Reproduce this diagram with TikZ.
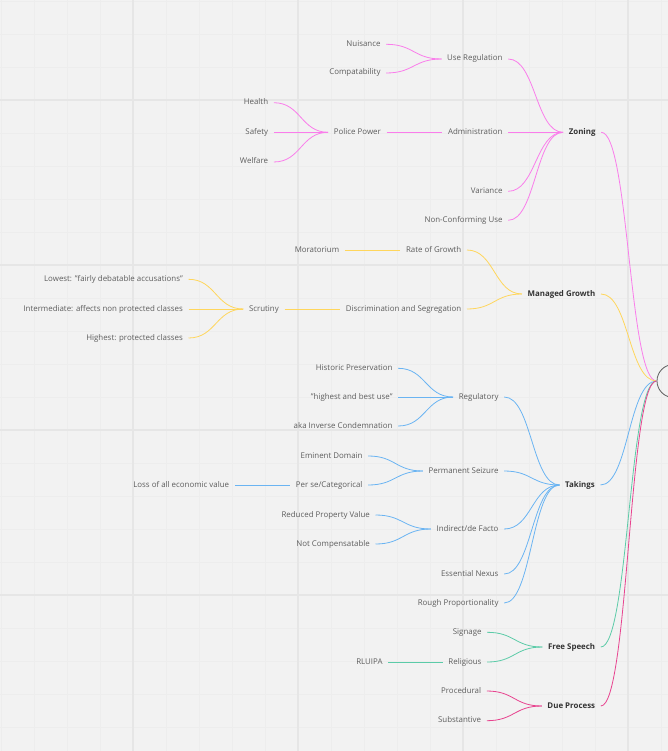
\documentclass[tikz,border=0pt]{standalone}
\usepackage{fontspec}
\setmainfont{Open Sans}
\usetikzlibrary{calc}
\definecolor{bg}{HTML}{F2F2F2}
\definecolor{gmin}{HTML}{EDEDED}
\definecolor{gmaj}{HTML}{E6E6E6}
\definecolor{txt}{HTML}{5E5E5E}
\definecolor{txtb}{HTML}{333333}
\definecolor{pinkc}{HTML}{FA7DEB}
\definecolor{yellowc}{HTML}{FFD65C}
\definecolor{bluec}{HTML}{6AB4F2}
\definecolor{tealc}{HTML}{5BCBA8}
\definecolor{crimc}{HTML}{E8438F}
\tikzset{
  lab/.style={font=\fontsize{7.9}{9}\selectfont, text=txt, inner xsep=5.5pt, inner ysep=1pt,
    text height=5.4pt, text depth=1.4pt, anchor=east, xshift=5.5pt},
  labb/.style={lab, font=\fontsize{7.9}{9}\selectfont\bfseries, text=txtb},
  mm/.style={to path={let \p1=(\tikztostart), \p2=(\tikztotarget), \n1={(\x2-\x1)/2} in
     .. controls +(\n1,0) and +(-\n1,0) .. (\tikztotarget)}},
  conn/.style={line width=0.8pt},
}
\begin{document}
\begin{tikzpicture}[x=1pt,y=-1pt]
\fill[bg] (0,0) rectangle (668,751);
\useasboundingbox (0,0) rectangle (668,751);
% grid
\foreach \gx in {1,34,...,661} \draw[gmin,line width=0.7pt] (\gx,0) -- (\gx,751);
\foreach \gy in {1,34,...,727} \draw[gmin,line width=0.7pt] (0,\gy) -- (668,\gy);
\foreach \gx in {133,298,463,628} \draw[gmaj,line width=1.2pt] (\gx,0) -- (\gx,751);
\foreach \gy in {100,265,430,595} \draw[gmaj,line width=1.2pt] (0,\gy) -- (668,\gy);

% root
\node[circle, draw=txt, line width=0.8pt, minimum size=33pt, inner sep=0pt] (root) at (673.5,381) {};

% Zoning
\node[lab] (nuis) at (380.7,44.3) {Nuisance};
\node[lab] (comp) at (380.7,73) {Compatability};
\node[lab] (usereg) at (502.7,59) {Use Regulation};
\node[lab] (health) at (268.3,102.7) {Health};
\node[lab] (safety) at (268.3,132.3) {Safety};
\node[lab] (welfare) at (268.3,162) {Welfare};
\node[lab] (police) at (381,132.3) {Police Power};
\node[lab] (admin) at (502.7,132.3) {Administration};
\node[lab] (variance) at (502.7,191.3) {Variance};
\node[lab] (noncon) at (502.7,220.3) {Non-Conforming Use};
\node[labb] (zoning) at (595.7,132.3) {Zoning};

% Managed Growth
\node[lab] (morat) at (339.3,250) {Moratorium};
\node[lab] (rate) at (461.5,250) {Rate of Growth};
\node[lab] (lowest) at (183,279.3) {Lowest: "fairly debatable accusations"};
\node[lab] (inter) at (183,309) {Intermediate: affects non protected classes};
\node[lab] (highest) at (183,338) {Highest: protected classes};
\node[lab] (scrut) at (279,309) {Scrutiny};
\node[lab] (discrim) at (461.5,309) {Discrimination and Segregation};
\node[labb] (mgrowth) at (595.5,294) {Managed Growth};

% Takings
\node[lab] (hist) at (392.7,368.3) {Historic Preservation};
\node[lab] (hbu) at (392.7,397) {"highest and best use"};
\node[lab] (aka) at (392.7,426) {aka Inverse Condemnation};
\node[lab] (regul) at (498.7,397) {Regulatory};
\node[lab] (emin) at (362.7,456) {Eminent Domain};
\node[lab] (perse) at (362.7,485) {Per se/Categorical};
\node[lab] (loss) at (229.3,485) {Loss of all economic value};
\node[lab] (perm) at (498.7,471) {Permanent Seizure};
\node[lab] (reduced) at (370,515) {Reduced Property Value};
\node[lab] (notcomp) at (370,544) {Not Compensatable};
\node[lab] (indirect) at (498.7,529) {Indirect/de Facto};
\node[lab] (nexus) at (498.7,574) {Essential Nexus};
\node[lab] (rough) at (498.7,603) {Rough Proportionality};
\node[labb] (takings) at (595,485) {Takings};

% Free Speech
\node[lab] (signage) at (481.7,632.3) {Signage};
\node[lab] (relig) at (481.7,662) {Religious};
\node[lab] (rluipa) at (382.7,662) {RLUIPA};
\node[labb] (fspeech) at (595.3,647) {Free Speech};

% Due Process
\node[lab] (proc) at (481.3,691) {Procedural};
\node[lab] (subst) at (481.3,720.7) {Substantive};
\node[labb] (dproc) at (595.3,706) {Due Process};

% connectors
\begin{scope}[conn, draw=pinkc]
\draw (nuis.east) to[mm] (usereg.west);
\draw (comp.east) to[mm] (usereg.west);
\draw (health.east) to[mm] (police.west);
\draw (safety.east) to[mm] (police.west);
\draw (welfare.east) to[mm] (police.west);
\draw (police.east) to[mm] (admin.west);
\draw (usereg.east) to[mm] (zoning.west);
\draw (admin.east) to[mm] (zoning.west);
\draw (variance.east) to[mm] (zoning.west);
\draw (noncon.east) to[mm] (zoning.west);
\draw (zoning.east) to[mm] (root.west);
\end{scope}
\begin{scope}[conn, draw=yellowc]
\draw (morat.east) to[mm] (rate.west);
\draw (lowest.east) to[mm] (scrut.west);
\draw (inter.east) to[mm] (scrut.west);
\draw (highest.east) to[mm] (scrut.west);
\draw (scrut.east) to[mm] (discrim.west);
\draw (rate.east) to[mm] (mgrowth.west);
\draw (discrim.east) to[mm] (mgrowth.west);
\draw (mgrowth.east) to[mm] (root.west);
\end{scope}
\begin{scope}[conn, draw=bluec]
\draw (hist.east) to[mm] (regul.west);
\draw (hbu.east) to[mm] (regul.west);
\draw (aka.east) to[mm] (regul.west);
\draw (loss.east) to[mm] (perse.west);
\draw (emin.east) to[mm] (perm.west);
\draw (perse.east) to[mm] (perm.west);
\draw (reduced.east) to[mm] (indirect.west);
\draw (notcomp.east) to[mm] (indirect.west);
\draw (regul.east) to[mm] (takings.west);
\draw (perm.east) to[mm] (takings.west);
\draw (indirect.east) to[mm] (takings.west);
\draw (nexus.east) to[mm] (takings.west);
\draw (rough.east) to[mm] (takings.west);
\draw (takings.east) to[mm] (root.west);
\end{scope}
\begin{scope}[conn, draw=tealc]
\draw (rluipa.east) to[mm] (relig.west);
\draw (signage.east) to[mm] (fspeech.west);
\draw (relig.east) to[mm] (fspeech.west);
\draw (fspeech.east) to[mm] (root.west);
\end{scope}
\begin{scope}[conn, draw=crimc]
\draw (proc.east) to[mm] (dproc.west);
\draw (subst.east) to[mm] (dproc.west);
\draw (dproc.east) to[mm] (root.west);
\end{scope}
\end{tikzpicture}
\end{document}
